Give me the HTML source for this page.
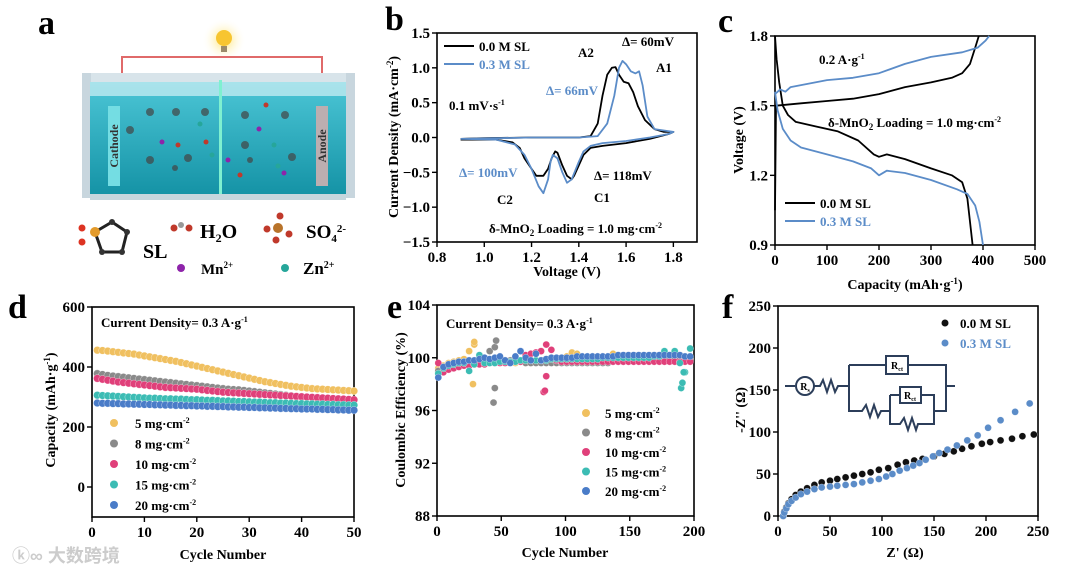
<!DOCTYPE html>
<html><head><meta charset="utf-8"><style>
html,body{margin:0;padding:0;background:#fff}
svg{display:block;font-family:"Liberation Serif",serif;font-weight:bold}
</style></head><body>
<svg id="fig" width="1080" height="576" viewBox="0 0 1080 576">
<defs>
<linearGradient id="water" x1="0" y1="0" x2="0" y2="1"><stop offset="0" stop-color="#4cc6d6"/><stop offset="1" stop-color="#1593a6"/></linearGradient>
<radialGradient id="glow"><stop offset="0" stop-color="#ffe36a"/><stop offset="1" stop-color="#fff" stop-opacity="0"/></radialGradient>
</defs>
<g>
<text x="38" y="34" font-size="34">a</text>
<circle cx="224" cy="40" r="22" fill="url(#glow)"/>
<circle cx="224" cy="38" r="8" fill="#f7c530"/>
<rect x="221" y="46" width="6" height="6" fill="#9a8a6a"/>
<polyline points="122,94 122,57 322,57 322,94" fill="none" stroke="#e06a6a" stroke-width="2"/>
<polygon points="82,73 355,73 345,95 92,95" fill="#d8e4ea"/>
<rect x="82" y="73" width="9" height="125" fill="#c8d6de"/>
<rect x="346" y="73" width="9" height="125" fill="#c8d6de"/>
<rect x="90" y="82" width="256" height="112" fill="url(#water)"/>
<rect x="90" y="82" width="256" height="14" fill="#bfeaf0" opacity="0.8"/>
<rect x="90" y="194" width="256" height="6" fill="#c5d6dd"/>
<rect x="108" y="106" width="12" height="80" fill="#74dde3"/>
<text transform="translate(118,146) rotate(-90)" font-size="12" text-anchor="middle" fill="#333">Cathode</text>
<rect x="316" y="106" width="12" height="80" fill="#bcaeb0"/>
<text transform="translate(326,146) rotate(-90)" font-size="12" text-anchor="middle" fill="#333">Anode</text>
<rect x="219" y="80" width="3" height="114" fill="#7ff0d0"/>
<g fill="#444" opacity="0.7">
<circle cx="150" cy="112" r="4"/><circle cx="176" cy="112" r="4"/><circle cx="205" cy="112" r="4"/><circle cx="130" cy="130" r="4"/>
<circle cx="150" cy="160" r="4"/><circle cx="188" cy="158" r="4"/><circle cx="245" cy="115" r="4"/><circle cx="285" cy="115" r="4"/>
<circle cx="245" cy="145" r="4"/><circle cx="292" cy="157" r="4"/><circle cx="175" cy="168" r="3"/><circle cx="250" cy="160" r="3"/>
</g>
<g fill="#c0392b"><circle cx="206" cy="142" r="2.5"/><circle cx="266" cy="105" r="2.5"/><circle cx="240" cy="175" r="2.5"/><circle cx="178" cy="145" r="2.5"/></g>
<g fill="#8e24aa"><circle cx="162" cy="142" r="2.5"/><circle cx="259" cy="129" r="2.5"/><circle cx="228" cy="160" r="2.5"/><circle cx="284" cy="173" r="2.5"/></g>
<g fill="#26a69a"><circle cx="212" cy="155" r="2.5"/><circle cx="274" cy="145" r="2.5"/><circle cx="278" cy="166" r="2.5"/><circle cx="200" cy="124" r="2.5"/></g>
<g>
<polygon points="95,232 112,222 127,232 122,252 102,252" fill="none" stroke="#222" stroke-width="3"/>
<circle cx="95" cy="232" r="5" fill="#e39a2a"/><circle cx="82" cy="228" r="3.5" fill="#d32"/><circle cx="82" cy="242" r="3.5" fill="#d32"/>
<circle cx="112" cy="222" r="3" fill="#333"/><circle cx="127" cy="232" r="3" fill="#333"/><circle cx="122" cy="252" r="3" fill="#333"/><circle cx="102" cy="252" r="3" fill="#333"/>
</g>
<text x="143" y="258" font-size="20">SL</text>
<g><circle cx="174" cy="228" r="3.5" fill="#c0392b"/><circle cx="181" cy="225" r="3" fill="#999"/><circle cx="189" cy="228" r="3.5" fill="#c0392b"/></g>
<text x="200" y="238" font-size="20">H<tspan font-size="12" dy="4">2</tspan><tspan dy="-4">O</tspan></text>
<g><circle cx="278" cy="228" r="5" fill="#b8732a"/><circle cx="280" cy="216" r="3.5" fill="#c0392b"/><circle cx="267" cy="229" r="3.5" fill="#c0392b"/><circle cx="289" cy="234" r="3.5" fill="#c0392b"/><circle cx="276" cy="240" r="3.5" fill="#c0392b"/></g>
<text x="306" y="238" font-size="19">SO<tspan font-size="11" dy="4">4</tspan><tspan font-size="11" dy="-10">2-</tspan></text>
<circle cx="181" cy="268" r="4" fill="#8e24aa"/>
<text x="201" y="274" font-size="15">Mn<tspan font-size="9" dy="-6">2+</tspan></text>
<circle cx="285" cy="268" r="4" fill="#26a69a"/>
<text x="303" y="274" font-size="17">Zn<tspan font-size="10" dy="-6">2+</tspan></text>
</g>
<g id="charts"></g>
<text x="12" y="562" font-size="18" fill="#ccc" font-family="'Liberation Sans','Noto Sans CJK SC',sans-serif">ⓚ∞ 大数跨境</text>
</svg>
<script>
const cvV0=[0.9,1.0,1.2,1.4,1.45,1.48,1.5,1.52,1.54,1.555,1.57,1.59,1.61,1.63,1.65,1.68,1.72,1.76,1.8,1.78,1.7,1.6,1.5,1.45,1.42,1.4,1.38,1.37,1.35,1.33,1.31,1.3,1.285,1.27,1.25,1.22,1.2,1.17,1.15,1.12,1.05,0.9];
const cvI0=[-0.02,-0.01,0,0,0.02,0.2,0.6,0.9,1.0,1.01,0.9,0.8,0.78,0.65,0.45,0.25,0.12,0.08,0.08,0.05,-0.02,-0.08,-0.12,-0.15,-0.25,-0.4,-0.55,-0.6,-0.55,-0.4,-0.22,-0.2,-0.3,-0.45,-0.55,-0.55,-0.45,-0.3,-0.15,-0.07,-0.03,-0.03];
const cvV3=[0.9,1.2,1.4,1.48,1.52,1.55,1.57,1.585,1.6,1.62,1.64,1.655,1.67,1.69,1.72,1.8,1.78,1.7,1.6,1.5,1.45,1.42,1.4,1.37,1.35,1.33,1.31,1.29,1.28,1.27,1.25,1.23,1.2,1.17,1.13,1.05,0.9];
const cvI3=[-0.02,0,0,0.02,0.2,0.6,1.0,1.1,1.05,0.95,0.92,0.95,0.75,0.3,0.12,0.08,0.05,0,-0.05,-0.08,-0.12,-0.2,-0.35,-0.6,-0.65,-0.5,-0.3,-0.25,-0.35,-0.6,-0.8,-0.7,-0.45,-0.25,-0.1,-0.03,-0.02];
const gcdBlackDisX=[0,3,8,15,25,40,80,120,160,190,200,215,250,300,340,360,370,375,380];
const gcdBlackDisY=[1.8,1.7,1.6,1.5,1.46,1.43,1.41,1.39,1.35,1.29,1.28,1.29,1.27,1.23,1.2,1.17,1.1,1.0,0.9];
const gcdBlackChX=[0,2,50,100,150,200,250,300,340,360,375,385,392];
const gcdBlackChY=[1.05,1.5,1.51,1.52,1.53,1.55,1.58,1.6,1.62,1.64,1.68,1.75,1.8];
const gcdBlueDisX=[0,5,15,30,50,100,150,185,200,215,250,300,350,370,385,393,400];
const gcdBlueDisY=[1.56,1.48,1.4,1.35,1.32,1.29,1.26,1.23,1.2,1.22,1.21,1.18,1.14,1.12,1.07,1.0,0.9];
const gcdBlueChX=[0,10,20,30,100,150,200,250,300,360,390,405,412];
const gcdBlueChY=[1.55,1.57,1.56,1.58,1.61,1.62,1.64,1.68,1.71,1.73,1.75,1.78,1.8];
const dS5=[456,455,453,451,449,447,445,443,440,437,434,431,428,425,422,419,415,411,407,403,399,395,391,387,383,379,375,371,367,363,359,355,351,348,345,342,339,336,334,332,330,328,327,326,325,324,323,322,321,320];
const dS8=[378,375,372,370,368,366,364,362,360,358,356,354,352,350,348,346,344,342,340,338,336,334,332,330,328,326,325,324,322,320,318,316,314,312,310,308,306,304,302,300,299,298,297,296,295,294,293,292,291,290];
const dS10=[362,359,356,353,350,348,346,344,342,340,338,336,334,332,331,330,329,328,327,326,324,322,320,318,316,315,314,313,312,311,310,309,308,307,306,305,304,303,302,301,300,299,298,297,296,295,294,293,292,291];
const dS15=[306,305,304,303,302,301,300,299,298,297,296,296,295,294,294,293,293,292,291,291,290,289,289,288,287,287,286,285,285,284,283,283,282,281,281,280,280,279,278,278,277,277,276,276,275,275,274,274,273,273];
const dS20=[280,279,279,278,278,277,277,276,276,275,275,274,274,273,273,272,272,271,271,270,270,269,269,268,268,267,267,266,266,265,265,264,264,263,263,262,262,261,261,260,260,260,259,259,258,258,257,257,256,256];
const dCycles=Array.from({length:50},(_,i)=>i+1);
const eCycles=[1,5,9,13,17,21,25,29,33,37,41,45,49,53,57,61,65,69,73,77,81,85,89,93,97,101,105,109,113,117,121,125,129,133,137,141,145,149,153,157,161,165,169,173,177,181,185,189,193,197];
const eS5=[99.2,99.4,99.6,99.7,99.8,99.9,100.5,101.0,99.8,99.7,99.8,99.7,99.8,99.8,99.7,99.6,99.7,99.6,99.6,99.7,99.8,99.9,99.9,99.8,99.8,100.1,100.4,100.3,100.0,99.8,99.8,99.8,99.9,100.0,100.3,99.9,99.8,99.8,99.8,99.8,99.8,99.8,99.8,99.8,99.8,99.9,99.8,99.8,99.9,99.9];
const eS8=[99.0,99.3,99.5,99.6,99.6,99.7,99.7,99.7,99.8,100.0,100.5,100.8,99.8,99.8,99.8,99.7,99.7,99.6,99.6,99.6,99.6,99.6,99.6,99.6,99.6,99.6,99.6,99.6,99.6,99.6,99.6,99.6,99.6,99.6,99.7,99.7,99.7,99.7,99.8,99.8,99.8,99.8,99.8,99.8,99.9,99.9,99.9,99.9,99.9,99.9];
const eS10=[99.6,98.9,99.1,99.2,99.3,99.4,99.4,99.5,99.5,99.5,99.6,99.6,99.6,99.6,99.7,99.7,99.7,100.2,100.3,100.4,100.5,101.0,100.6,99.8,99.7,99.7,99.7,99.7,99.7,99.7,99.7,99.7,99.7,99.7,99.7,99.7,99.7,99.7,99.7,99.7,99.7,99.7,99.7,99.7,99.7,99.7,99.7,99.7,99.7,99.7];
const eS15=[98.8,99.2,99.4,99.5,99.6,99.6,99.0,99.5,100.2,99.6,99.6,99.6,99.7,99.7,99.7,99.7,99.8,99.8,99.8,99.8,99.8,99.8,99.9,99.9,99.9,99.9,99.9,99.9,99.9,99.9,99.9,99.9,100.0,100.0,100.0,100.0,100.0,100.0,100.0,100.0,100.0,100.0,100.1,100.1,100.5,100.2,100.5,99.6,98.9,100.7];
const eS20=[98.5,99.3,99.5,99.6,99.7,99.7,99.8,99.8,99.9,100.0,99.9,100.0,100.1,99.8,99.6,100.1,100.5,100.0,99.8,100.3,99.8,99.9,100.0,100.0,100.0,100.0,100.0,100.1,100.1,100.1,100.1,100.1,100.1,100.1,100.1,100.2,100.2,100.2,100.2,100.2,100.2,100.2,100.2,100.2,100.2,100.2,100.2,100.2,100.1,100.1];
const eOutX5=[28,29],eOutY5=[98.0,101.2];
const eOutX8=[44,45,46],eOutY8=[96.6,97.7,101.3];
const eOutX10=[83,84,85],eOutY10=[97.4,97.5,98.6];
const eOutX15=[190,191,192],eOutY15=[97.7,98.1,98.9];
const fX0=[5,6,8,10,13,17,22,28,35,42,50,57,65,73,81,89,97,106,115,123,131,139,150,160,169,177,186,196,204,214,225,235,246];
const fY0=[0,5,10,15,20,25,29,33,37,40,42,44,46,48,50,52,55,57,61,64,66,68,71,74,77,80,83,86,88,90,92,95,97];
const fX3=[5,6,8,10,13,17,22,28,35,42,50,57,65,73,81,89,97,104,110,117,124,130,136,142,149,155,163,172,182,192,202,214,228,242];
const fY3=[0,4,9,14,18,22,26,29,32,34,35,36,37,38,40,42,44,47,50,54,57,60,63,67,71,75,79,84,90,96,105,114,124,134];

const NS='http://www.w3.org/2000/svg';
const root=document.getElementById('charts');
function mk(tag,attrs,parent){const e=document.createElementNS(NS,tag);for(const k in attrs)e.setAttribute(k,attrs[k]);(parent||root).appendChild(e);return e;}
function txt(x,y,s,size,parent,extra){const t=mk('text',Object.assign({x:x,y:y,'font-size':size},extra||{}),parent);t.innerHTML=s;return t;}
function panel(name,L,R,T,B,x0,x1,y0,y1){
  const g=mk('g',{});
  
  
  const sx=v=>L+(v-x0)/(x1-x0)*(R-L), sy=v=>B-(v-y0)/(y1-y0)*(B-T);
  return {g,sx,sy,L,R,T,B};
}
function frame(p){const r=mk('rect',{x:p.L,y:p.T,width:p.R-p.L,height:p.B-p.T,fill:'none',stroke:'#000','stroke-width':1.6},p.g);}
function xticks(p,vals,labels){vals.forEach((v,i)=>{const x=p.sx(v);mk('line',{x1:x,x2:x,y1:p.B,y2:p.B+5,stroke:'#000','stroke-width':1.4},p.g);const t=txt(x,p.B+20,labels[i],15,p.g,{'text-anchor':'middle'});});}
function yticks(p,vals,labels){vals.forEach((v,i)=>{const y=p.sy(v);mk('line',{x1:p.L-5,x2:p.L,y1:y,y2:y,stroke:'#000','stroke-width':1.4},p.g);const t=txt(p.L-7,y+5,labels[i],15,p.g,{'text-anchor':'end'});});}
function line(p,xs,ys,color,name){const pts=xs.map((x,i)=>p.sx(x).toFixed(1)+','+p.sy(ys[i]).toFixed(1)).join(' ');const l=mk('polyline',{points:pts,fill:'none',stroke:color,'stroke-width':1.8,'stroke-linejoin':'round'},p.g);}
function dots(p,xs,ys,color,r,name){const g=mk('g',{},p.g);xs.forEach((x,i)=>{mk('circle',{cx:p.sx(x),cy:p.sy(ys[i]),r:r,fill:color,stroke:'#fff','stroke-width':0.5,'stroke-opacity':0.6},g);});}
function ytitle(x,y,s,p){const t=txt(0,0,s,14,p.g,{transform:`translate(${x},${y}) rotate(-90)`,'text-anchor':'middle'});}
function xtitle(x,y,s,p){const t=txt(x,y,s,14,p.g,{'text-anchor':'middle'});}
const BL='#5b8cc8',BK='#000';
{const p=panel('panel-b-cv',437,697,33,242,0.8,1.9,-1.5,1.5);
frame(p);
xticks(p,[0.8,1.0,1.2,1.4,1.6,1.8],['0.8','1.0','1.2','1.4','1.6','1.8']);
yticks(p,[1.5,1.0,0.5,0,-0.5,-1.0,-1.5],['1.5','1.0','0.5','0.0','−0.5','−1.0','−1.5']);
line(p,cvV0,cvI0,BK,'cv-0.0M');line(p,cvV3,cvI3,BL,'cv-0.3M');
txt(385,30,'b',34,p.g);
xtitle(567,276,'Voltage (V)',p);ytitle(398,137,'Current Density (mA·cm<tspan font-size="9" dy="-5">-2</tspan><tspan dy="5">)</tspan>',p);
mk('line',{x1:444,x2:474,y1:46,y2:46,stroke:BK,'stroke-width':2},p.g);txt(479,51,'0.0 M SL',13,p.g);
mk('line',{x1:444,x2:474,y1:64,y2:64,stroke:BL,'stroke-width':2},p.g);txt(479,69,'0.3 M SL',13,p.g,{fill:BL});
txt(449,110,'0.1 mV·s<tspan font-size="8" dy="-5">-1</tspan>',13,p.g);
txt(578,57,'A2',13,p.g);txt(622,46,'Δ= 60mV',13,p.g);txt(656,72,'A1',13,p.g);
txt(546,95,'Δ= 66mV',13,p.g,{fill:BL});txt(459,177,'Δ= 100mV',13,p.g,{fill:BL});
txt(594,180,'Δ= 118mV',13,p.g);txt(497,204,'C2',13,p.g);txt(594,202,'C1',13,p.g);
txt(489,233,'δ-MnO<tspan font-size="9" dy="3">2</tspan><tspan dy="-3"> Loading = 1.0 mg·cm</tspan><tspan font-size="8" dy="-5">-2</tspan>',13,p.g);}
{const p=panel('panel-c-gcd',775,1035,36,245,0,500,0.9,1.8);
frame(p);
xticks(p,[0,100,200,300,400,500],['0','100','200','300','400','500']);
yticks(p,[0.9,1.2,1.5,1.8],['0.9','1.2','1.5','1.8']);
line(p,gcdBlackDisX,gcdBlackDisY,BK,'discharge-0.0M');line(p,gcdBlackChX,gcdBlackChY,BK,'charge-0.0M');
line(p,gcdBlueDisX,gcdBlueDisY,BL,'discharge-0.3M');line(p,gcdBlueChX,gcdBlueChY,BL,'charge-0.3M');
txt(718,32,'c',34,p.g);
xtitle(905,289,'Capacity (mAh·g<tspan font-size="9" dy="-5">-1</tspan><tspan dy="5">)</tspan>',p);ytitle(743,140,'Voltage (V)',p);
txt(819,64,'0.2 A·g<tspan font-size="8" dy="-5">-1</tspan>',13,p.g);
txt(828,127,'δ-MnO<tspan font-size="9" dy="3">2</tspan><tspan dy="-3"> Loading = 1.0 mg·cm</tspan><tspan font-size="8" dy="-5">-2</tspan>',13,p.g);
mk('line',{x1:785,x2:815,y1:203,y2:203,stroke:BK,'stroke-width':2},p.g);txt(820,208,'0.0 M SL',13,p.g);
mk('line',{x1:785,x2:815,y1:221,y2:221,stroke:BL,'stroke-width':2},p.g);txt(820,226,'0.3 M SL',13,p.g,{fill:BL});}
const C5='#f0c060',C8='#8a8a8a',C10='#e0407a',C15='#3cbcb4',C20='#4a7cc8';
{const p=panel('panel-d-cycling',92,354,307,517,0,50,-100,600);
frame(p);
xticks(p,[0,10,20,30,40,50],['0','10','20','30','40','50']);
yticks(p,[0,200,400,600],['0','200','400','600']);
dots(p,dCycles,dS5,C5,3.8,'series-5mg');dots(p,dCycles,dS8,C8,3.8,'series-8mg');dots(p,dCycles,dS10,C10,3.8,'series-10mg');dots(p,dCycles,dS15,C15,3.8,'series-15mg');dots(p,dCycles,dS20,C20,3.8,'series-20mg');
txt(8,318,'d',34,p.g);
xtitle(223,559,'Cycle Number',p);ytitle(55,410,'Capacity (mAh·g<tspan font-size="9" dy="-5">-1</tspan><tspan dy="5">)</tspan>',p);
txt(101,327,'Current Density= 0.3 A·g<tspan font-size="8" dy="-5">-1</tspan>',13,p.g);
[['5',C5],['8',C8],['10',C10],['15',C15],['20',C20]].forEach((e,i)=>{const y=423+i*20.5;mk('circle',{cx:114,cy:y,r:4,fill:e[1]},p.g);txt(135,y+5,e[0]+' mg·cm<tspan font-size="8" dy="-5">-2</tspan>',13,p.g);});}
{const p=panel('panel-e-ce',437,694,305,516,0,200,88,104);
frame(p);
xticks(p,[0,50,100,150,200],['0','50','100','150','200']);
yticks(p,[88,92,96,100,104],['88','92','96','100','104']);
dots(p,eCycles,eS5,C5,3.5,'ce-5mg');dots(p,eOutX5,eOutY5,C5,3.5,'ce-5mg-outliers');
dots(p,eCycles,eS8,C8,3.5,'ce-8mg');dots(p,eOutX8,eOutY8,C8,3.5,'ce-8mg-outliers');
dots(p,eCycles,eS10,C10,3.5,'ce-10mg');dots(p,eOutX10,eOutY10,C10,3.5,'ce-10mg-outliers');
dots(p,eCycles,eS15,C15,3.5,'ce-15mg');dots(p,eOutX15,eOutY15,C15,3.5,'ce-15mg-outliers');
dots(p,eCycles,eS20,C20,3.5,'ce-20mg');
txt(387,318,'e',34,p.g);
xtitle(565,557,'Cycle Number',p);ytitle(405,410,'Coulombic Efficiency (%)',p);
txt(446,328,'Current Density= 0.3 A·g<tspan font-size="8" dy="-5">-1</tspan>',13,p.g);
[['5',C5],['8',C8],['10',C10],['15',C15],['20',C20]].forEach((e,i)=>{const y=413+i*19.5;mk('circle',{cx:586,cy:y,r:4,fill:e[1]},p.g);txt(605,y+5,e[0]+' mg·cm<tspan font-size="8" dy="-5">-2</tspan>',13,p.g);});}
{const p=panel('panel-f-eis',778,1038,306,516,0,250,0,250);
frame(p);
xticks(p,[0,50,100,150,200,250],['0','50','100','150','200','250']);
yticks(p,[0,50,100,150,200,250],['0','50','100','150','200','250']);
dots(p,fX0,fY0,'#111',3.5,'nyquist-0.0M');dots(p,fX3,fY3,BL,3.5,'nyquist-0.3M');
txt(722,318,'f',34,p.g);
xtitle(905,557,"Z' (Ω)",p);ytitle(745,410,"-Z'' (Ω)",p);
mk('circle',{cx:945,cy:323,r:3.5,fill:'#111'},p.g);txt(960,328,'0.0 M SL',13,p.g);
mk('circle',{cx:945,cy:343,r:3.5,fill:BL},p.g);txt(960,348,'0.3 M SL',13,p.g,{fill:BL});
const cg=mk('g',{fill:'none',stroke:'#2c3e5a','stroke-width':2},p.g);
mk('line',{x1:785,x2:795,y1:386,y2:386},cg);mk('circle',{cx:805,cy:386,r:9},cg);
mk('polyline',{points:'814,386 820,386 823,380 827,392 831,380 835,392 838,386 849,386'},cg);
mk('polyline',{points:'849,365 849,411 862,411 866,405 870,417 874,405 878,417 881,411 890,411'},cg);
mk('polyline',{points:'849,365 886,365'},cg);mk('rect',{x:886,y:356,width:22,height:18},cg);mk('polyline',{points:'908,365 946,365 946,411 935,411'},cg);
mk('line',{x1:946,x2:955,y1:386,y2:386},cg);
mk('polyline',{points:'890,395 890,424 900,424 904,418 908,430 912,418 916,430 918,424 934,424 934,395 921,395'},cg);
mk('rect',{x:900,y:387,width:21,height:16},cg);mk('line',{x1:890,x2:900,y1:395,y2:395},cg);
txt(805,390,'R<tspan font-size="6" dy="2">s</tspan>',10,p.g,{'text-anchor':'middle'});
txt(897,369,'R<tspan font-size="6" dy="2">ct</tspan>',10,p.g,{'text-anchor':'middle'});
txt(910,399,'R<tspan font-size="6" dy="2">ct</tspan>',10,p.g,{'text-anchor':'middle'});}
</script>
</body></html>
